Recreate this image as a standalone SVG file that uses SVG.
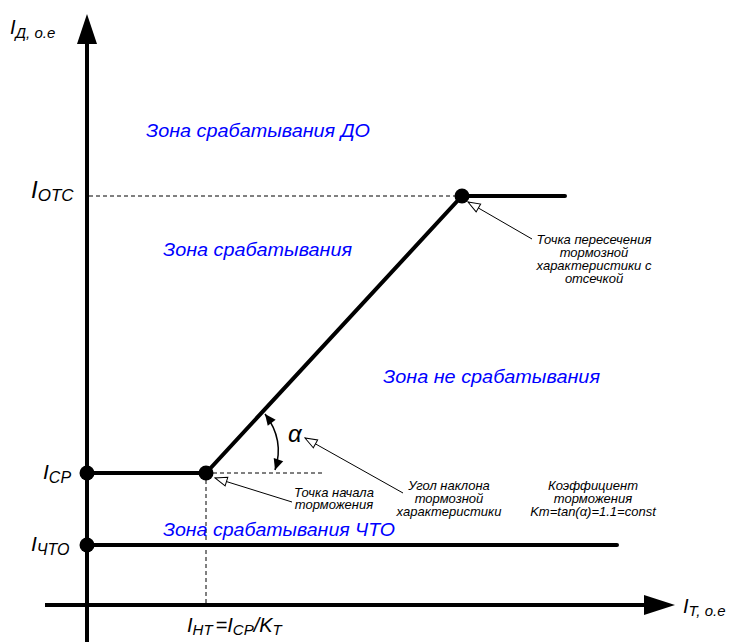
<svg xmlns="http://www.w3.org/2000/svg" width="733" height="642" viewBox="0 0 733 642">
<style>
text{font-family:"Liberation Sans",Arial,sans-serif;font-style:italic;fill:#000}
.zone{fill:#0000ff;font-size:18px}
.note{font-size:13px;text-anchor:middle}
.thick{stroke:#000;stroke-width:4;fill:none;stroke-linecap:round}
.dash{stroke:#000;stroke-width:1;stroke-dasharray:4 3;fill:none}
.lead{stroke:#000;stroke-width:1;fill:none}
</style>
<defs>
<marker id="open" markerUnits="userSpaceOnUse" markerWidth="14" markerHeight="12" viewBox="-1 -6 14 12" refX="12" refY="0" orient="auto">
<path d="M0,-4.5 L12,0 L0,4.5 z" fill="#fff" stroke="#000" stroke-width="1"/>
</marker>
<marker id="solid" markerUnits="userSpaceOnUse" markerWidth="13" markerHeight="12" viewBox="-1 -6 13 12" refX="11" refY="0" orient="auto-start-reverse">
<path d="M0,-5 L11,0 L0,5 z" fill="#000"/>
</marker>
</defs>

<g id="axes">
<line x1="87" y1="42" x2="87" y2="642" stroke="#000" stroke-width="4"/>
<polygon points="87,14 77,44 97,44" fill="#000"/>
<line x1="45" y1="605" x2="646" y2="605" stroke="#000" stroke-width="4"/>
<polygon points="675,605 644,595 644,615" fill="#000"/>
</g>

<g id="connectors">
<line class="dash" x1="89" y1="196" x2="460" y2="196"/>
<line class="dash" x1="206" y1="473" x2="322" y2="473"/>
<line class="dash" x1="206" y1="473" x2="206" y2="604"/>
<polyline class="thick" points="87,473 206,473 462,196 565,196"/>
<line class="thick" x1="87" y1="545" x2="617" y2="545"/>
<path d="M265,414 Q285,440 275,470" stroke="#000" stroke-width="1.5" fill="none" marker-start="url(#solid)" marker-end="url(#solid)"/>
<line class="lead" x1="532" y1="239" x2="468" y2="202" marker-end="url(#open)"/>
<line class="lead" x1="292" y1="502" x2="215" y2="478" marker-end="url(#open)"/>
<line class="lead" x1="403" y1="493" x2="305" y2="438" marker-end="url(#open)"/>
</g>

<g id="points">
<circle cx="87" cy="473" r="7.5" fill="#000"/>
<circle cx="206" cy="473" r="7.5" fill="#000"/>
<circle cx="462" cy="196" r="7.5" fill="#000"/>
<circle cx="87" cy="545" r="7.5" fill="#000"/>
</g>

<g id="axis-labels">
<text x="10" y="34" font-size="20">I<tspan font-size="15" dy="4">Д, о.е</tspan></text>
<text x="31" y="198" font-size="24">I<tspan font-size="17" dy="3">OTC</tspan></text>
<text x="43" y="479" font-size="21">I<tspan font-size="16" dy="4">CP</tspan></text>
<text x="31" y="551" font-size="21">I<tspan font-size="16" dy="4">ЧТО</tspan></text>
<text x="187" y="632" font-size="20">I<tspan font-size="15" dy="3">НТ</tspan><tspan dy="-3" dx="3">=I</tspan><tspan font-size="15" dy="3">CP</tspan><tspan dy="-3">/K</tspan><tspan font-size="15" dy="3">T</tspan></text>
<text x="683" y="613" font-size="20">I<tspan font-size="15" dy="3">T, о.е</tspan></text>
</g>

<g id="zones">
<text class="zone" x="146" y="137" textLength="224" lengthAdjust="spacingAndGlyphs">Зона срабатывания ДО</text>
<text class="zone" x="163" y="256" textLength="189" lengthAdjust="spacingAndGlyphs">Зона срабатывания</text>
<text class="zone" x="383" y="383" textLength="217" lengthAdjust="spacingAndGlyphs">Зона не срабатывания</text>
<text class="zone" x="163" y="536" textLength="232" lengthAdjust="spacingAndGlyphs">Зона срабатывания ЧТО</text>
</g>

<g id="notes">
<text x="288" y="442" font-size="24">α</text>
<text class="note" x="594" y="244">Точка пересечения</text>
<text class="note" x="594" y="257">тормозной</text>
<text class="note" x="594" y="270">характеристики с</text>
<text class="note" x="594" y="283">отсечкой</text>
<text class="note" x="334" y="497">Точка начала</text>
<text class="note" x="334" y="509">торможения</text>
<text class="note" x="449" y="490">Угол наклона</text>
<text class="note" x="449" y="503">тормозной</text>
<text class="note" x="449" y="516">характеристики</text>
<text class="note" x="593" y="490">Коэффициент</text>
<text class="note" x="593" y="503">торможения</text>
<text class="note" x="593" y="516">Km=tan(α)=1.1=const</text>
</g>
</svg>
